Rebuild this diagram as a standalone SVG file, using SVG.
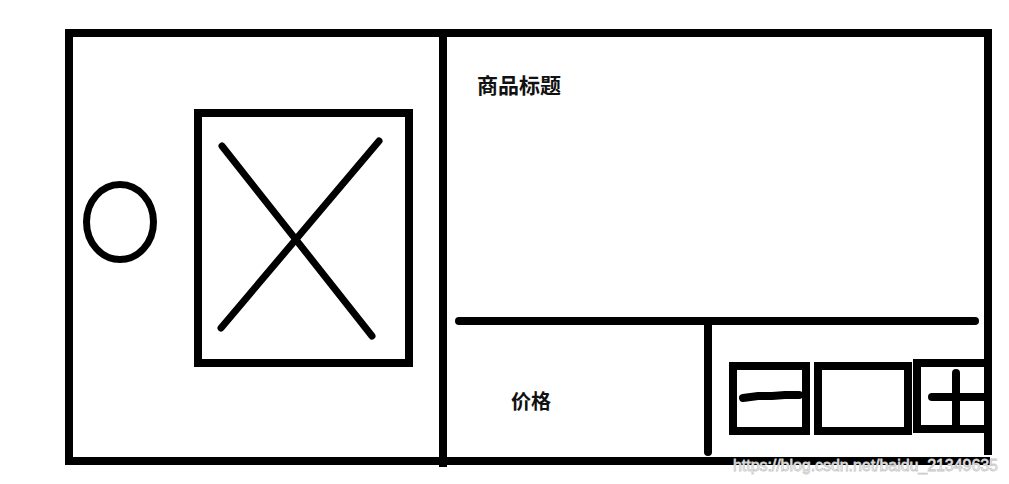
<svg xmlns="http://www.w3.org/2000/svg" width="1009" height="484" viewBox="0 0 1009 484">
<style>
.s{fill:none;stroke:#000;stroke-width:8}
.l{fill:none;stroke:#000;stroke-width:7;stroke-linecap:round}
.t{font-family:"Noto Sans CJK SC","Noto Sans",sans-serif;font-weight:bold;fill:#111}
.w{font-family:"Liberation Sans",Arial,sans-serif;font-size:16px;fill:#fff;stroke:#c8c8c8;stroke-width:0.8}
</style>
<rect width="1009" height="484" fill="#fff"/>
<g id="frame">
<path class="s" d="M988,455 L988,33 L69,33 L69,461 L990,461"/>
</g>
<g id="dividers">
<line class="s" x1="443" y1="37" x2="443" y2="467"/>
<line class="l" x1="459" y1="321" x2="975" y2="321" style="stroke-width:8"/>
<line class="l" x1="708" y1="325" x2="708" y2="452" style="stroke-width:8"/>
</g>
<g id="image">
<rect class="s" x="198" y="113" width="211" height="250"/>
<line class="l" x1="222" y1="146" x2="372" y2="336"/>
<line class="l" x1="379" y1="141" x2="221" y2="328"/>
</g>
<g id="radio">
<ellipse class="s" cx="120" cy="222" rx="33.5" ry="37.5" style="stroke-width:7"/>
</g>
<g id="title">
<text class="t" x="477" y="93" font-size="21">商品标题</text>
</g>
<g id="price">
<text class="t" x="511" y="409" font-size="20">价格</text>
</g>
<g id="minus">
<rect class="s" x="733" y="366" width="73" height="65"/>
<path class="l" d="M743,398 L758,396 L772,396 L785,395 L799,395" style="stroke-width:8"/>
</g>
<g id="count">
<rect class="s" x="818" y="366" width="90" height="65"/>
</g>
<g id="plus">
<path class="s" d="M985,363 L917,363 L917,429 L985,429"/>
<line class="l" x1="932" y1="397" x2="985" y2="397" style="stroke-width:8"/>
<line class="l" x1="956" y1="373" x2="956" y2="426" style="stroke-width:8"/>
</g>
<g id="watermark">
<text class="w" x="733" y="471" textLength="265">https://blog.csdn.net/baidu_21349635</text>
</g>
</svg>
